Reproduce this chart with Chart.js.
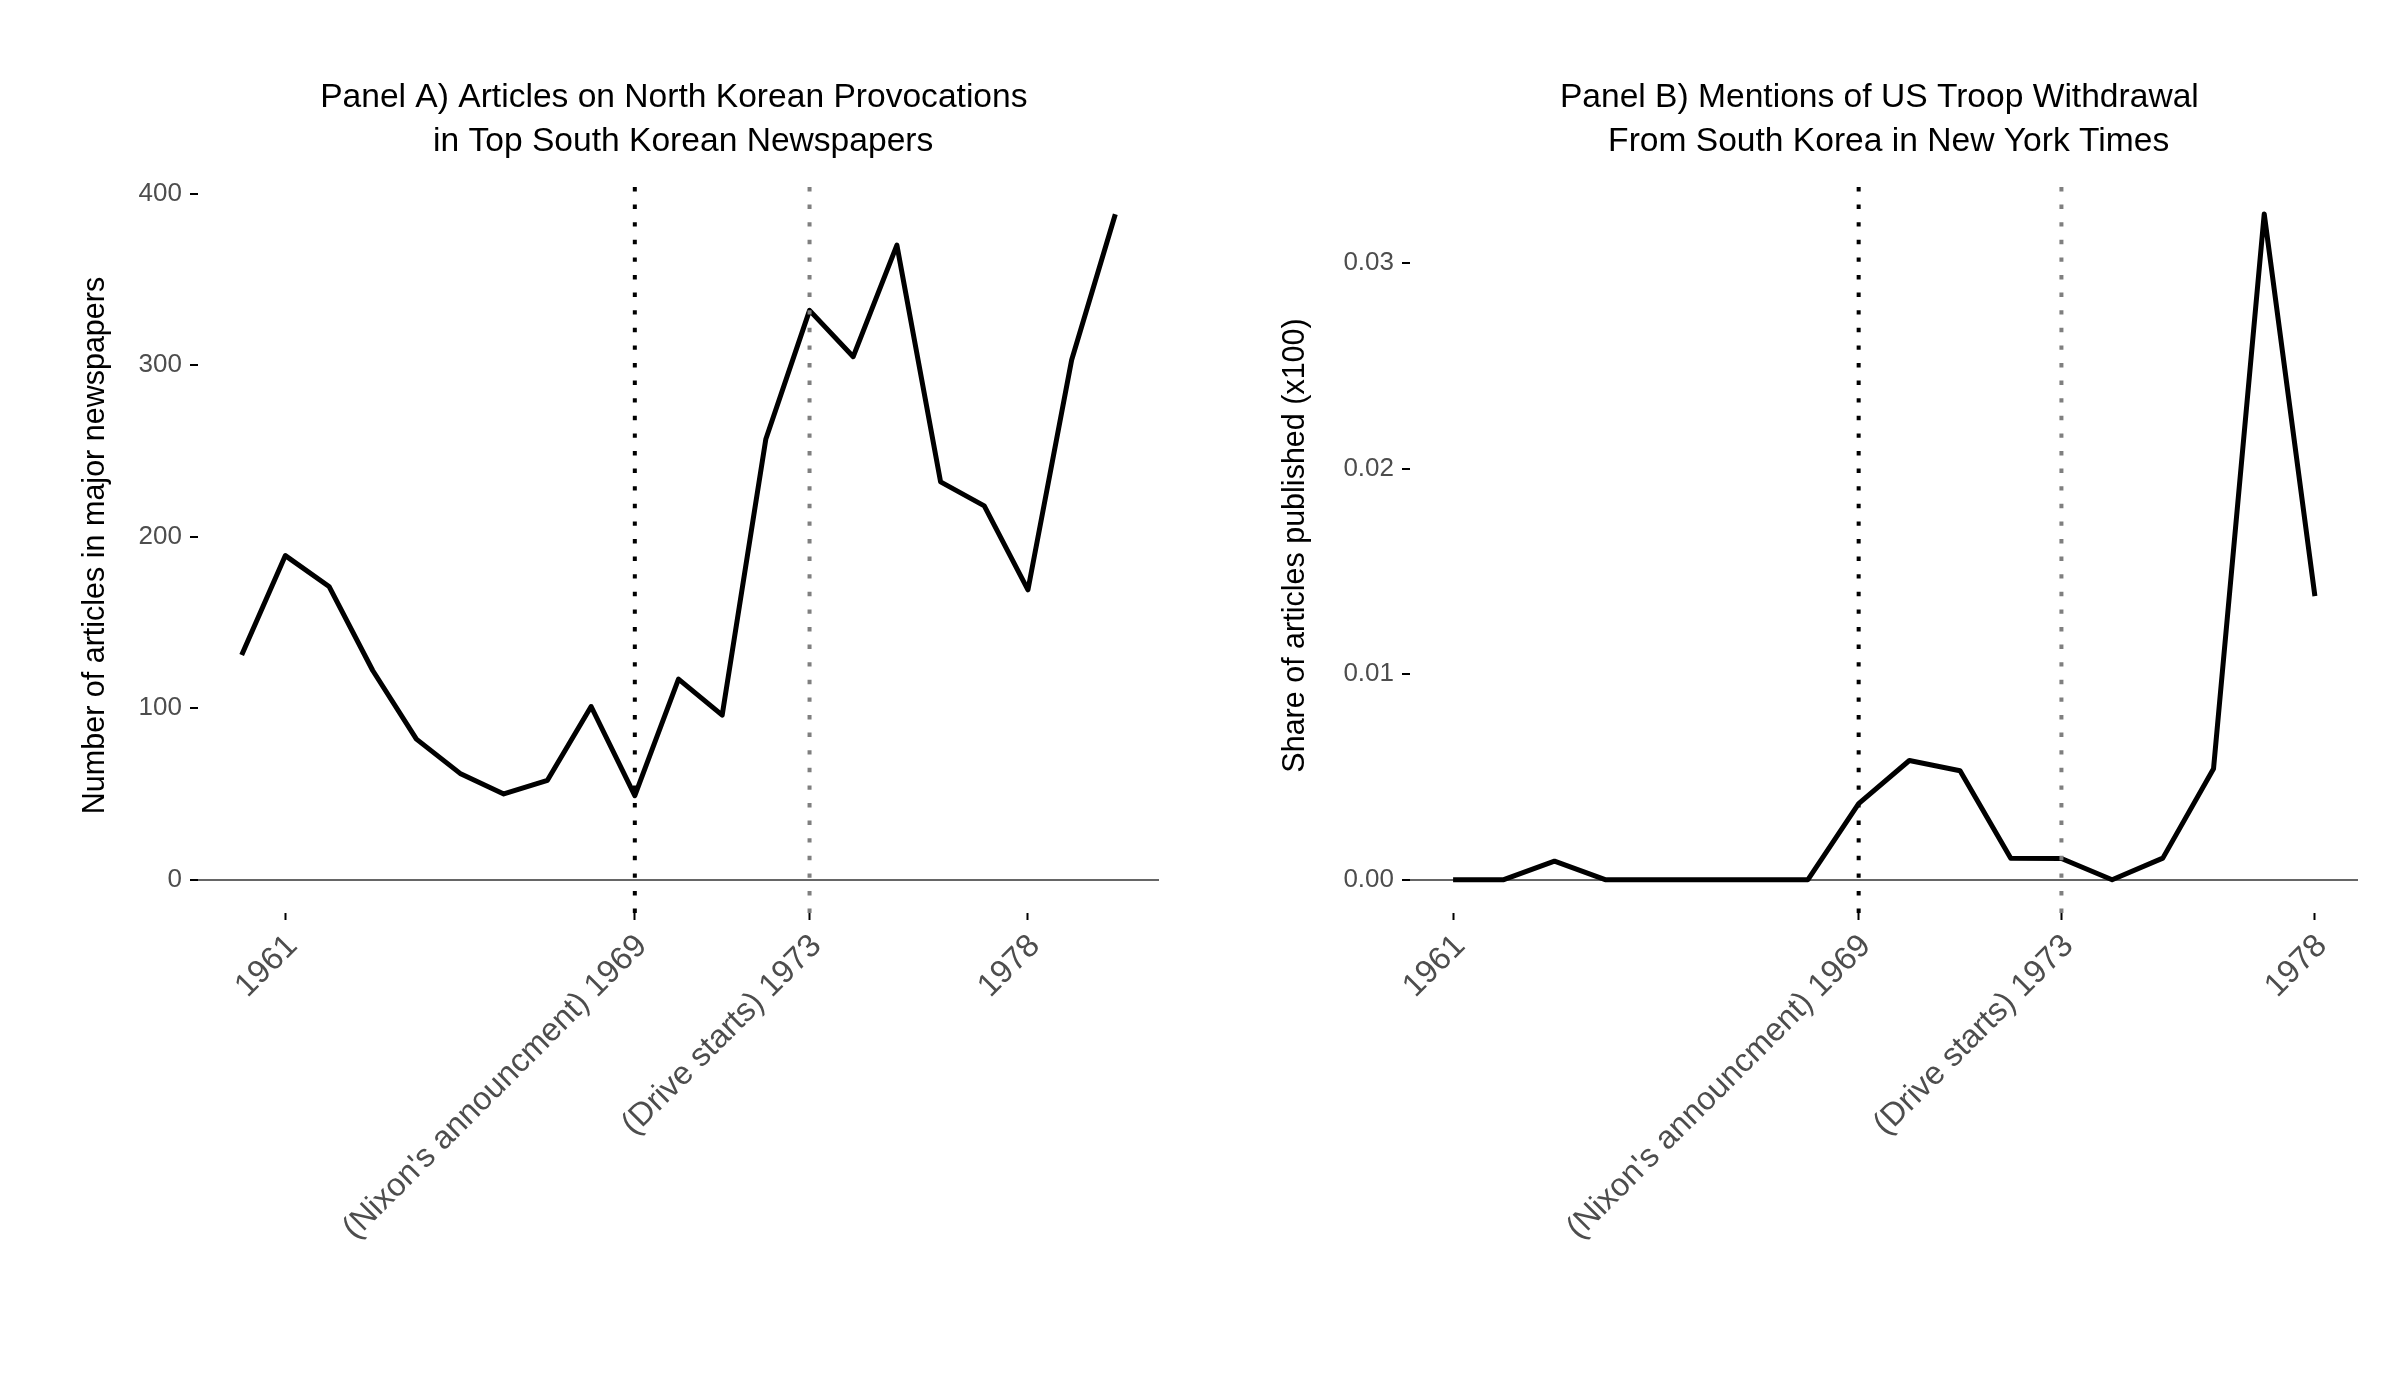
<!DOCTYPE html>
<html>
<head>
<meta charset="utf-8">
<title>Provocations and US troop withdrawal</title>
<script src="https://cdn.jsdelivr.net/npm/chart.js@4.4.1/dist/chart.umd.min.js"></script>
<style>
  html, body { margin: 0; padding: 0; background: #fff; }
  #wrap { position: relative; width: 2400px; height: 1400px; }
  .panel { position: absolute; top: 0; width: 1200px; height: 1400px; }
  #panelA { left: 0; }
  #panelB { left: 1200px; }
</style>
</head>
<body>
<div id="wrap">
  <div class="panel" id="panelA"><canvas id="chartA" width="1200" height="1400"></canvas></div>
  <div class="panel" id="panelB"><canvas id="chartB" width="1200" height="1400"></canvas></div>
</div>
<script>
// Panel A : articles in South Korean newspapers
const yearsA = [1960, 1961, 1962, 1963, 1964, 1965, 1966, 1967, 1968, 1969, 1970,
                1971, 1972, 1973, 1974, 1975, 1976, 1977, 1978, 1979, 1980];
const articlesA = [131, 189, 171, 122, 82, 62, 50, 58, 101, 49, 117,
                   96, 257, 332, 305, 370, 232, 218, 169, 303, 388];

// Panel B : share of NYT articles (x100)
const yearsB = [1961, 1962, 1963, 1964, 1965, 1966, 1967, 1968, 1969,
                1970, 1971, 1972, 1973, 1974, 1975, 1976, 1977, 1978];
const shareB = [0, 0, 0.0009, 0, 0, 0, 0, 0, 0.0037,
                0.0058, 0.0053, 0.00105, 0.00103, 0, 0.00105, 0.0054, 0.0324, 0.0138];

const xTickYears = [1961, 1969, 1973, 1978];
const xTickLabels = ['1961', "(Nixon's announcment) 1969", '(Drive starts) 1973', '1978'];
const eventYears = [1969, 1973];
const eventColors = ['#000000', '#7f7f7f'];
const yTicksA = [0, 100, 200, 300, 400];
const yTicksB = [0, 0.01, 0.02, 0.03];

Chart.defaults.font.family = "'Liberation Sans', Arial, sans-serif";
Chart.defaults.color = '#4d4d4d';

function makePanel(canvasId, p) {
    const ctx = document.getElementById(canvasId).getContext('2d');

    // lignes pointillées verticales, tracées du bas vers le haut
    const eventSets = eventYears.map((yr, i) => ({
        data: [{ x: yr, y: p.yMin }, { x: yr, y: p.yMax }],
        borderColor: eventColors[i],
        borderWidth: 4,
        borderDash: [4.4, 13.2],
        pointRadius: 0,
        order: 0
    }));

    return new Chart(ctx, {
        type: 'line',
        data: {
            datasets: eventSets.concat([{
                data: p.years.map((yr, i) => ({ x: yr, y: p.values[i] })),
                borderColor: '#000',
                borderWidth: 5,
                borderJoinStyle: 'round',
                pointRadius: 0,
                tension: 0,
                order: 1
            }])
        },
        options: {
            responsive: false,
            animation: false,
            layout: { padding: { left: 0, right: p.padRight, top: 0, bottom: 0 } },
            plugins: {
                legend: { display: false },
                tooltip: { enabled: false },
                title: {
                    display: true,
                    fullSize: false,
                    text: p.title,
                    color: '#000',
                    font: { size: 33.6, weight: 'normal', lineHeight: 1.3 },
                    padding: { top: 76, bottom: 14.6 }
                }
            },
            scales: {
                x: {
                    type: 'linear',
                    min: p.xMin,
                    max: p.xMax,
                    afterBuildTicks: s => { s.ticks = xTickYears.map(v => ({ value: v })); },
                    afterFit: s => { s.height = 487; },
                    border: { display: false },
                    grid: {
                        drawOnChartArea: false,
                        drawTicks: true,
                        tickLength: 7,
                        tickColor: '#000',
                        tickWidth: 2
                    },
                    ticks: {
                        autoSkip: false,
                        minRotation: 45,
                        maxRotation: 45,
                        padding: 7,
                        labelOffset: 7,
                        color: '#4d4d4d',
                        font: { size: 32.5 },
                        callback: (v, i) => xTickLabels[i]
                    }
                },
                y: {
                    min: p.yMin,
                    max: p.yMax,
                    afterBuildTicks: s => { s.ticks = p.yTicks.map(v => ({ value: v })); },
                    afterFit: s => { s.width = p.axisWidth; },
                    border: { display: false },
                    grid: {
                        drawOnChartArea: true,
                        drawTicks: true,
                        tickLength: 8,
                        tickColor: '#000',
                        tickWidth: 2,
                        color: c => (c.tick && c.tick.value === 0) ? '#666666' : 'rgba(0,0,0,0)',
                        lineWidth: c => (c.tick && c.tick.value === 0) ? 2 : 0
                    },
                    ticks: {
                        padding: 8,
                        color: '#4d4d4d',
                        font: { size: 26 },
                        callback: v => p.fmt(v)
                    },
                    title: {
                        display: true,
                        text: p.yTitle,
                        color: '#000',
                        font: { size: 30.5 },
                        padding: { top: 77, bottom: 0 }
                    }
                }
            }
        }
    });
}

makePanel('chartA', {
    title: ['Panel A) Articles on North Korean Provocations ', ' in Top South Korean Newspapers'],
    yTitle: 'Number of articles in major newspapers',
    years: yearsA,
    values: articlesA,
    yTicks: yTicksA,
    fmt: v => String(v),
    xMin: 1959, xMax: 1981,
    yMin: -19.4, yMax: 409.2,
    axisWidth: 198,
    padRight: 41
});

makePanel('chartB', {
    title: ['Panel B) Mentions of US Troop Withdrawal ', ' From South Korea in New York Times'],
    yTitle: 'Share of articles published (x100)',
    years: yearsB,
    values: shareB,
    yTicks: yTicksB,
    fmt: v => v.toFixed(2),
    xMin: 1960.15, xMax: 1978.85,
    yMin: -0.00162, yMax: 0.03415,
    axisWidth: 210,
    padRight: 42
});
</script>
</body>
</html>
